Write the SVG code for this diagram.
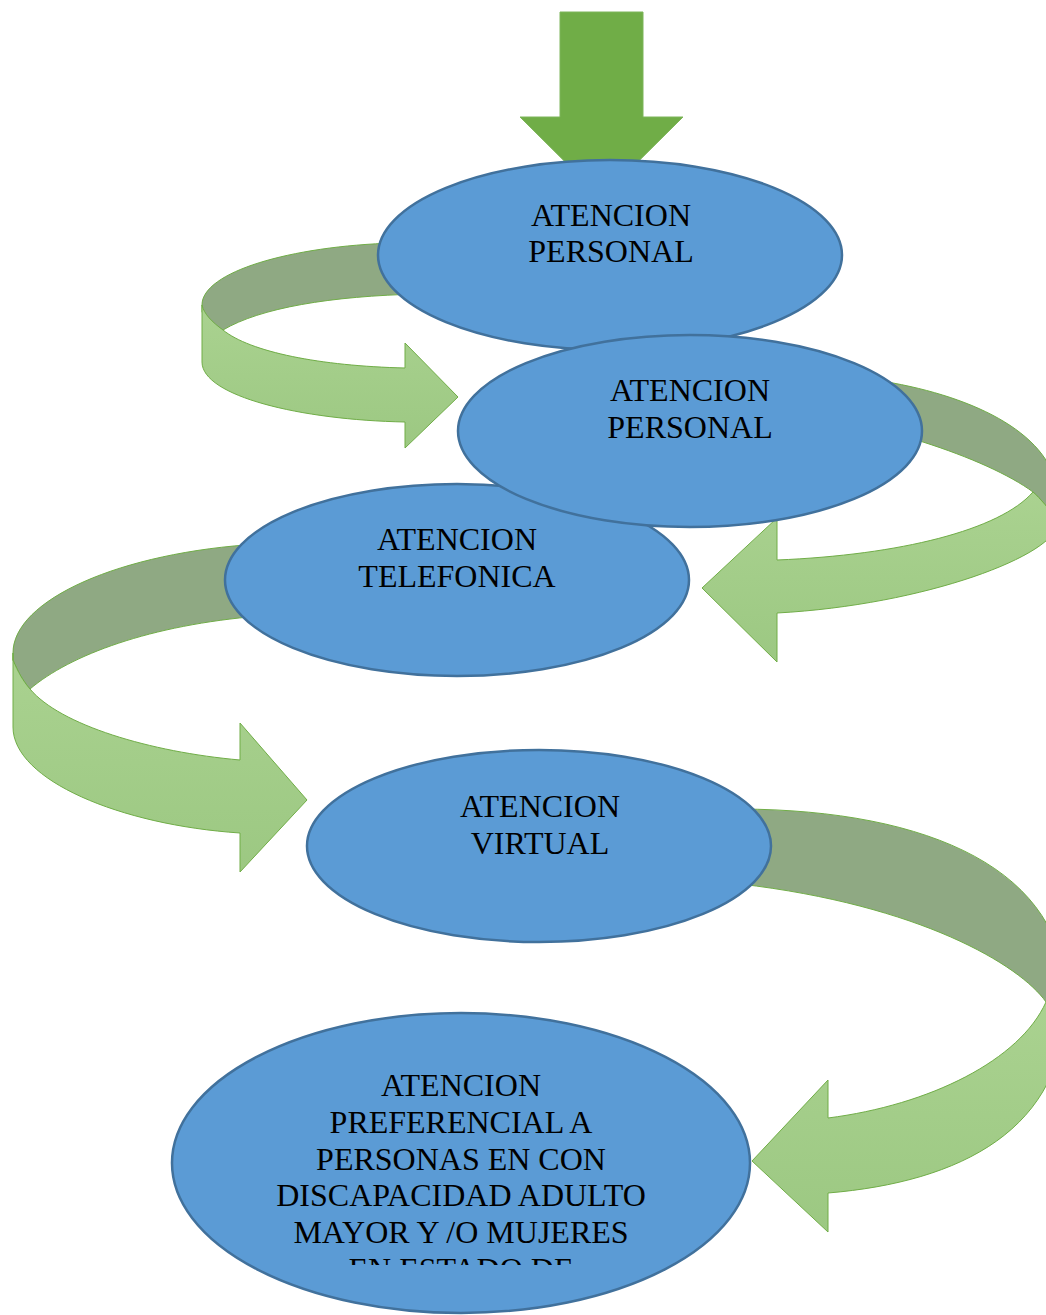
<svg xmlns="http://www.w3.org/2000/svg" width="1046" height="1315" viewBox="0 0 1046 1315">
<style>
.node{fill:#5B9BD5;stroke:#41719C;stroke-width:2.5}
.lbl{font-family:"Liberation Serif","Times New Roman",serif;font-size:32px;fill:#000;text-anchor:middle}
.back{fill:#8FA983;stroke:#70AD47;stroke-width:1}
.front{fill:url(#lg);stroke:#70AD47;stroke-width:1}
</style>
<defs>
<linearGradient id="lg" x1="0" y1="0" x2="0" y2="1">
<stop offset="0" stop-color="#AAD290"/>
<stop offset="1" stop-color="#9CC882"/>
</linearGradient>
<clipPath id="clip5"><rect x="0" y="0" width="1046" height="1265"/></clipPath>
</defs>
<g id="connectors">
<polygon id="arrow-top" points="560,12 643,12 643,117 683,117 601.5,198 520,117 560,117" fill="#70AD47" stroke="#7DB55A" stroke-width="1"/>
<g id="arrow1">
<path class="back" d="M420,242 L395,243 C290,246 202,272 202,305 L202,312 C207,320 214,325 223,330 C260,308 330,296 420,294 Z"/>
<path class="front" d="M202,305 L202,362 C202,396 300,420 405,422 L405,448 L458,397 L405,343 L405,368 C320,366 250,352 223,330 C212,322 204,314 202,305 Z"/>
</g>
<g id="arrow2">
<path class="back" d="M860,375 L893,383 C985,400 1058,440 1058,500 L1058,522 C1050,510 1040,498 1033,492 C1010,475 970,457 923,442 L900,436 Z"/>
<path class="front" d="M1033,492 C1040,498 1050,510 1058,522 C1058,555 925,605 777,613 L777,662 L702,588 L777,518 L777,560 C900,555 1000,530 1033,492 Z"/>
</g>
<g id="arrow3">
<path class="back" d="M260,544 C120,552 13,600 13,653 L13,660 C18,672 23,681 30,689 C70,655 150,625 260,616 Z"/>
<path class="front" d="M13,653 L13,727 C13,780 120,825 240,833 L240,872 L307,800 L240,723 L240,760 C150,752 60,725 30,689 C23,681 18,672 13,660 Z"/>
</g>
<g id="arrow4">
<path class="back" d="M740,809 C930,810 1066,870 1066,1000 L1066,1010 L1046,1002 C1020,965 920,905 740,884 Z"/>
<path class="front" d="M1066,1000 C1066,1130 960,1182 828,1193 L828,1232 L752,1161 L828,1080 L828,1118 C930,1105 1020,1060 1046,1002 L1066,1010 Z"/>
</g>
</g>
<g id="node1">
<ellipse class="node" cx="610" cy="255" rx="232" ry="95"/>
<text class="lbl" x="611" y="226">ATENCION</text>
<text class="lbl" x="611" y="262">PERSONAL</text>
</g>
<g id="node3">
<ellipse class="node" cx="457" cy="580" rx="232" ry="96"/>
<text class="lbl" x="457" y="550">ATENCION</text>
<text class="lbl" x="457" y="587">TELEFONICA</text>
</g>
<g id="node2">
<ellipse class="node" cx="690" cy="431" rx="232" ry="96"/>
<text class="lbl" x="690" y="401">ATENCION</text>
<text class="lbl" x="690" y="438">PERSONAL</text>
</g>
<g id="node4">
<ellipse class="node" cx="539" cy="846" rx="232" ry="96"/>
<text class="lbl" x="540" y="817">ATENCION</text>
<text class="lbl" x="540" y="854">VIRTUAL</text>
</g>
<g id="node5">
<ellipse class="node" cx="461" cy="1163" rx="289" ry="150"/>
<g clip-path="url(#clip5)">
<text class="lbl" x="461" y="1096">ATENCION</text>
<text class="lbl" x="461" y="1133">PREFERENCIAL A</text>
<text class="lbl" x="461" y="1170">PERSONAS EN CON</text>
<text class="lbl" x="461" y="1206">DISCAPACIDAD ADULTO</text>
<text class="lbl" x="461" y="1243">MAYOR Y /O MUJERES</text>
<text class="lbl" x="461" y="1280">EN ESTADO DE</text>
</g>
</g>
</svg>
